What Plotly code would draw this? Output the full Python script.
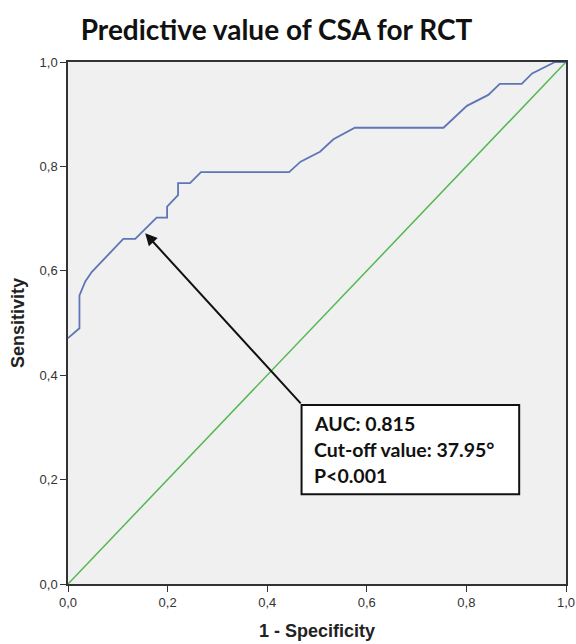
import plotly.graph_objects as go

# ROC curve data (1 - specificity, sensitivity)
fpr = [0.0, 0.023, 0.023, 0.035, 0.048, 0.111, 0.135, 0.178, 0.199, 0.199, 0.221, 0.221, 0.245,
       0.267, 0.444, 0.467, 0.506, 0.533, 0.576, 0.754, 0.801, 0.844, 0.867, 0.911, 0.932, 0.978, 1.0]
tpr = [0.471, 0.49, 0.553, 0.58, 0.598, 0.661, 0.661, 0.702, 0.702, 0.723, 0.745, 0.768, 0.768,
       0.789, 0.789, 0.809, 0.828, 0.852, 0.874, 0.874, 0.916, 0.937, 0.958, 0.958, 0.978, 1.0, 1.0]
ref_x = [0.0, 1.0]
ref_y = [0.0, 1.0]
tick_vals = [0.0, 0.2, 0.4, 0.6, 0.8, 1.0]
tick_text = ["0,0", "0,2", "0,4", "0,6", "0,8", "1,0"]
stats_lines = ["AUC: 0.815", "Cut-off value: 37.95°", "P<0.001"]

fig = go.Figure()
fig.add_trace(go.Scatter(x=ref_x, y=ref_y, mode="lines",
                         line=dict(color="#52b852", width=1.5), showlegend=False))
fig.add_trace(go.Scatter(x=fpr, y=tpr, mode="lines",
                         line=dict(color="#5e76b6", width=1.8), showlegend=False))

axis_common = dict(range=[0, 1], tickvals=tick_vals, ticktext=tick_text, automargin=False,
                   showgrid=False, zeroline=False, showline=True, linecolor="#333333",
                   linewidth=1.5, mirror=True, ticks="outside", ticklen=6, tickcolor="#333333",
                   tickfont=dict(family="Liberation Sans, Arial", size=13, color="#333333"))
fig.update_xaxes(**axis_common,
                 title=dict(text="<b>1 - Specificity</b>", font=dict(family="Liberation Sans, Arial", size=18, color="#222222"), standoff=15))
fig.update_yaxes(**axis_common,
                 title=dict(text="<b>Sensitivity</b>", font=dict(family="Liberation Sans, Arial", size=18, color="#222222"), standoff=10))

# stats box
fig.add_shape(type="rect", xref="x", yref="y", x0=0.469, x1=0.906, y0=0.172, y1=0.343,
              line=dict(color="#111111", width=2), fillcolor="white", layer="above")
for i, line in enumerate(stats_lines):
    fig.add_annotation(x=0.49, y=0.307 - i * 0.05, xref="x", yref="y", text="<b>" + line + "</b>",
                       showarrow=False, xanchor="left", yanchor="middle",
                       font=dict(family="Lato, Open Sans", size=19.5, color="#111111"))

# arrow
fig.add_annotation(x=0.155, y=0.672, ax=0.47, ay=0.343, xref="x", yref="y", axref="x", ayref="y",
                   text="", showarrow=True, arrowhead=2, arrowsize=1.2, arrowwidth=2, arrowcolor="#111111")

fig.update_layout(
    width=576, height=644,
    margin=dict(l=68, r=10, t=62, b=60),
    plot_bgcolor="#f0f0f0", paper_bgcolor="white",
    title=dict(text="<b>Predictive value of CSA for RCT</b>", x=0.48, xanchor="center", y=0.953, yanchor="middle",
               font=dict(family="Lato, Open Sans", size=28, color="#111111"), automargin=False),
)

fig.write_html("out.html", config={"displayModeBar": False},
               post_script="document.body.style.margin='0';")
